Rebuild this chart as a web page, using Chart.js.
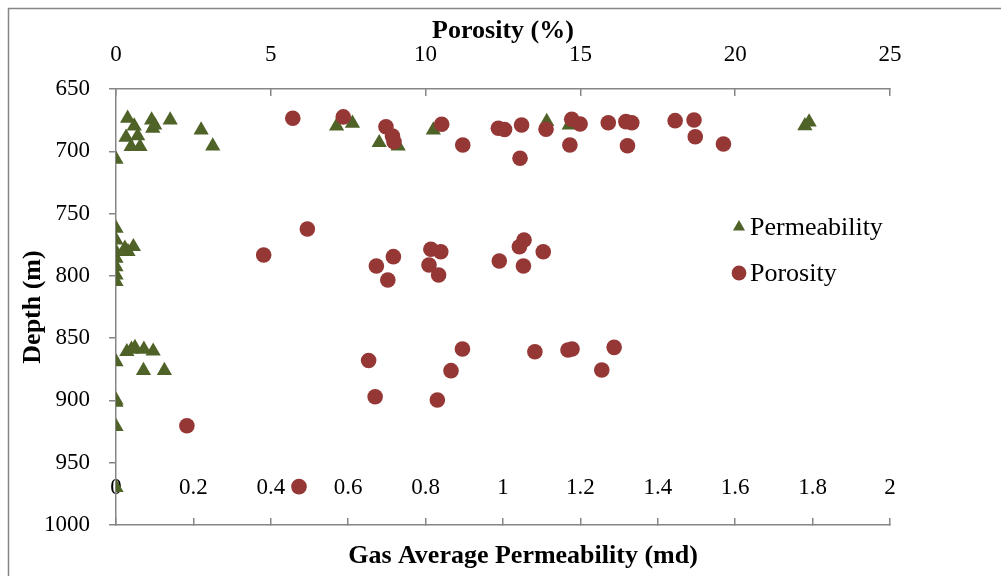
<!DOCTYPE html>
<html>
<head>
<meta charset="utf-8">
<script src="https://cdn.jsdelivr.net/npm/chart.js@4.4.1/dist/chart.umd.min.js"></script>
<style>
  html, body { margin: 0; padding: 0; background: #fff; }
  #wrap { width: 1001px; height: 576px; }
</style>
</head>
<body>
<div id="wrap"><canvas id="chart" width="1001" height="576"></canvas></div>
<script>
// gas average permeability (md) vs depth (m)
const permValues = [
  0.030, 0.047, 0.026, 0.056, 0.039, 0.062, 0.092, 0.095, 0.100, 0.140, 0.220, 0.250, 0.000,
  0.570, 0.611, 0.680, 0.729, 0.820, 1.113, 1.171, 1.780, 1.791,
  0, 0, 0, 0.023, 0.045, 0.031, 0, 0, 0, 0,
  0.028, 0.040, 0.049, 0.072, 0.096, 0, 0.071, 0.125, 0, 0, 0, 0
];
const permDepths = [
  673.5, 679.7, 688.8, 687.7, 696.3, 696.3, 674.9, 681.5, 679.0, 674.9, 682.9, 695.8, 706.4,
  679.7, 677.5, 693.1, 695.8, 682.9, 676.2, 678.9, 679.5, 676.5,
  761.8, 771.2, 780.6, 777.9, 776.6, 780.6, 785.9, 792.7, 799.3, 804.7,
  860.9, 859.0, 857.5, 859.0, 860.5, 869.0, 876.1, 876.1, 899.7, 901.5, 921.0, 970.0
];

// porosity (%) vs depth (m)
const porosityValues = [
  5.71, 7.34, 8.72, 8.93, 8.98, 10.52, 11.20, 12.35, 12.55, 13.10, 13.05, 13.89, 14.72, 14.99,
  14.66, 15.90, 16.47, 16.66, 16.52, 18.06, 18.67, 18.71, 19.62,
  6.18, 4.77, 8.41, 8.78, 8.96, 10.17, 10.49, 10.11, 10.42, 12.38, 13.03, 13.18, 13.16, 13.80,
  8.16, 11.19, 10.82, 13.53, 14.60, 14.73, 16.09, 15.69, 8.37, 10.38, 2.29, 5.91
];
const porosityDepths = [
  673.5, 672.4, 680.3, 687.7, 692.3, 678.3, 695.0, 681.5, 682.5, 678.9, 705.6, 682.3, 674.3, 678.1,
  695.0, 677.1, 676.2, 677.1, 695.5, 675.4, 674.9, 688.3, 694.2,
  762.4, 783.3, 792.1, 803.3, 784.6, 778.7, 780.6, 791.3, 799.3, 788.1, 776.6, 771.2, 792.1, 780.6,
  868.0, 858.7, 876.1, 860.9, 859.5, 858.7, 857.4, 875.6, 897.0, 899.7, 920.3, 969.2
];

const permRange = [0, 2];
const porosityRange = [0, 25];
const depthRange = [650, 1000];
const permTitle = "Gas Average Permeability (md)";

const FONT = '"Liberation Serif", "Times New Roman", serif';
const AXIS_GRAY = "#868686";
const GREEN = "#4F6228";
const RED = "#953735";

function toPoints(xs, ys) {
  return xs.map((x, i) => ({ x: x, y: ys[i] }));
}

const frame = {
  id: "frame",
  beforeDraw(chart) {
    const ctx = chart.ctx;
    ctx.save();
    ctx.fillStyle = "#fff";
    ctx.fillRect(0, 0, chart.width, chart.height);
    ctx.strokeStyle = AXIS_GRAY;
    ctx.lineWidth = 1.5;
    ctx.strokeRect(8.5, 8.5, chart.width + 20, chart.height + 20);
    ctx.restore();
  },
};

// legend inside the plot on the right + bottom axis title (Excel puts it off-centre)
const extras = {
  id: "extras",
  afterDraw(chart) {
    const ctx = chart.ctx;
    ctx.save();
    ctx.font = "26px " + FONT;
    ctx.textBaseline = "middle";
    ctx.textAlign = "left";
    chart.data.datasets.forEach((ds, i) => {
      const y = 227 + i * 46;
      ctx.fillStyle = ds.backgroundColor;
      ctx.strokeStyle = ds.backgroundColor;
      Chart.helpers.drawPoint(
        ctx,
        { pointStyle: ds.pointStyle, radius: ds.legendRadius, rotation: 0, borderWidth: 0 },
        739,
        y
      );
      ctx.fillStyle = "#000";
      ctx.fillText(ds.label, 750, y + 1);
    });
    ctx.font = "bold 26px " + FONT;
    ctx.textAlign = "center";
    ctx.fillText(permTitle, 523, 556);
    ctx.restore();
  },
};

const tickFont = { family: FONT, size: 23 };
const titleFont = { family: FONT, size: 26, weight: "bold" };
const plainNumber = (v) => String(v);

new Chart(document.getElementById("chart"), {
  type: "scatter",
  data: {
    datasets: [
      {
        label: "Permeability",
        data: toPoints(permValues, permDepths),
        xAxisID: "x",
        yAxisID: "y",
        pointStyle: "triangle",
        pointRadius: 8.8,
        legendRadius: 7,
        backgroundColor: GREEN,
        borderColor: GREEN,
        borderWidth: 0,
        order: 1,
      },
      {
        label: "Porosity",
        data: toPoints(porosityValues, porosityDepths),
        xAxisID: "x2",
        yAxisID: "y",
        pointStyle: "circle",
        pointRadius: 7.8,
        legendRadius: 7.4,
        backgroundColor: RED,
        borderColor: RED,
        borderWidth: 0,
        order: 0,
      },
    ],
  },
  options: {
    responsive: false,
    animation: false,
    devicePixelRatio: 1,
    layout: { padding: { left: 0, right: 111, top: 0, bottom: 0 } },
    plugins: { legend: { display: false }, tooltip: { enabled: false } },
    scales: {
      x: {
        type: "linear",
        position: "bottom",
        min: permRange[0],
        max: permRange[1],
        ticks: {
          stepSize: 0.2,
          mirror: true,
          padding: 23,
          color: "#000",
          font: tickFont,
          maxRotation: 0,
          autoSkip: false,
          callback: plainNumber,
        },
        grid: { drawOnChartArea: false, drawTicks: true, tickLength: -7, color: AXIS_GRAY, lineWidth: 1.5 },
        border: { color: AXIS_GRAY, width: 1.5 },
        title: { display: false },
        afterFit(scale) {
          scale.height = 51;
        },
      },
      x2: {
        type: "linear",
        position: "top",
        min: porosityRange[0],
        max: porosityRange[1],
        ticks: { stepSize: 5, padding: 27, color: "#000", font: tickFont, maxRotation: 0, autoSkip: false, callback: plainNumber },
        grid: { drawOnChartArea: false, drawTicks: true, tickLength: -7, color: AXIS_GRAY, lineWidth: 1.5 },
        border: { color: AXIS_GRAY, width: 1.5 },
        title: {
          display: true,
          text: "Porosity (%)",
          color: "#000",
          font: titleFont,
          padding: { top: 16, bottom: 0 },
        },
        afterFit(scale) {
          scale.height = 89;
        },
      },
      y: {
        type: "linear",
        position: "left",
        reverse: true,
        min: depthRange[0],
        max: depthRange[1],
        ticks: { stepSize: 50, padding: 19, color: "#000", font: tickFont, autoSkip: false, callback: plainNumber },
        grid: { drawOnChartArea: false, drawTicks: true, tickLength: 7, color: AXIS_GRAY, lineWidth: 1.5 },
        border: { color: AXIS_GRAY, width: 1.5 },
        title: {
          display: true,
          text: "Depth (m)",
          color: "#000",
          font: titleFont,
          padding: { top: 18, bottom: 0 },
        },
        afterFit(scale) {
          scale.width = 116;
        },
      },
    },
  },
  plugins: [frame, extras],
});
</script>
</body>
</html>
